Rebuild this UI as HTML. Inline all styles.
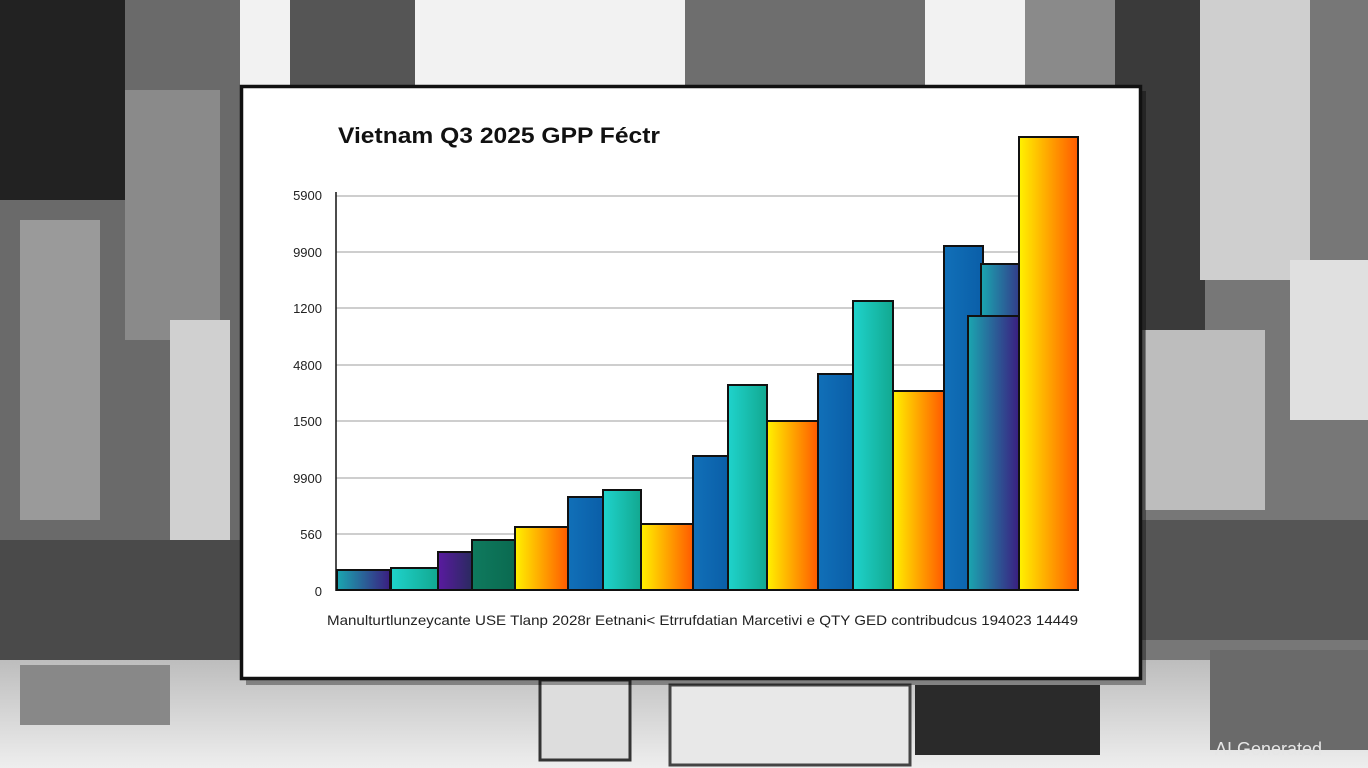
<!DOCTYPE html>
<html><head><meta charset="utf-8"><style>
html,body{margin:0;padding:0;width:1368px;height:768px;overflow:hidden;background:#d8d8d8}
svg{display:block}
text{font-family:"Liberation Sans",sans-serif}
</style></head><body>
<svg width="1368" height="768" viewBox="0 0 1368 768">
<defs>
<linearGradient id="yo" x1="0" x2="1"><stop offset="0" stop-color="#fff200"/><stop offset="0.5" stop-color="#ffa500"/><stop offset="1" stop-color="#ff5a00"/></linearGradient>
<linearGradient id="tp" x1="0" x2="1"><stop offset="0" stop-color="#1aa6b0"/><stop offset="1" stop-color="#3a1e80"/></linearGradient>
<linearGradient id="tl" x1="0" x2="1"><stop offset="0" stop-color="#1fd3cc"/><stop offset="1" stop-color="#12a890"/></linearGradient>
<linearGradient id="bl" x1="0" x2="1"><stop offset="0" stop-color="#1170b8"/><stop offset="1" stop-color="#0a5ea8"/></linearGradient>
<linearGradient id="pu" x1="0" x2="1"><stop offset="0" stop-color="#5a1aa0"/><stop offset="1" stop-color="#2a2a60"/></linearGradient>
<linearGradient id="gr" x1="0" x2="1"><stop offset="0" stop-color="#0f7a5e"/><stop offset="1" stop-color="#0a6a50"/></linearGradient>
<linearGradient id="street" x1="0" x2="0" y1="0" y2="1"><stop offset="0" stop-color="#bdbdbd"/><stop offset="1" stop-color="#eeeeee"/></linearGradient>
</defs>
<rect width="1368" height="768" fill="#f2f2f2"/>
<rect x="0" y="0" width="240" height="768" fill="#6a6a6a"/>
<rect x="0" y="0" width="125" height="200" fill="#222"/>
<rect x="125" y="90" width="95" height="250" fill="#8a8a8a"/>
<rect x="20" y="220" width="80" height="300" fill="#9a9a9a"/>
<rect x="170" y="320" width="60" height="220" fill="#d0d0d0"/>
<rect x="0" y="540" width="240" height="120" fill="#4a4a4a"/>
<rect x="290" y="0" width="125" height="85" fill="#555"/>
<rect x="685" y="0" width="240" height="85" fill="#6e6e6e"/>
<rect x="1025" y="0" width="90" height="85" fill="#8a8a8a"/>
<rect x="1142" y="0" width="226" height="768" fill="#777"/>
<rect x="1115" y="0" width="90" height="330" fill="#3a3a3a"/>
<rect x="1200" y="0" width="110" height="280" fill="#cfcfcf"/>
<rect x="1145" y="330" width="120" height="180" fill="#bdbdbd"/>
<rect x="1290" y="260" width="78" height="160" fill="#e0e0e0"/>
<rect x="1142" y="520" width="226" height="120" fill="#555"/>
<rect x="0" y="660" width="1368" height="108" fill="url(#street)"/>
<rect x="540" y="680" width="90" height="80" fill="#ddd" stroke="#333" stroke-width="3"/>
<rect x="670" y="685" width="240" height="80" fill="#e8e8e8" stroke="#444" stroke-width="3"/>
<rect x="915" y="685" width="185" height="70" fill="#2a2a2a"/>
<rect x="20" y="665" width="150" height="60" fill="#888"/>
<rect x="1210" y="650" width="158" height="100" fill="#6a6a6a"/>
<text x="1215" y="755" font-size="18" fill="#e6e6e6">AI Generated</text>
<rect x="246" y="91" width="900" height="594" fill="#000" opacity="0.35"/>
<rect x="241.5" y="86.5" width="899" height="592" fill="#fff" stroke="#111" stroke-width="3.5"/>
<text x="338" y="143" font-size="22" font-weight="bold" fill="#111" textLength="322" lengthAdjust="spacingAndGlyphs">Vietnam  Q3  2025  GPP  Féctr</text>
<g stroke="#bdbdbd" stroke-width="1.5">
<line x1="336" y1="196" x2="1078" y2="196"/><line x1="336" y1="252" x2="1078" y2="252"/>
<line x1="336" y1="308" x2="1078" y2="308"/><line x1="336" y1="365" x2="1078" y2="365"/>
<line x1="336" y1="421" x2="1078" y2="421"/><line x1="336" y1="478" x2="1078" y2="478"/>
<line x1="336" y1="534" x2="1078" y2="534"/>
</g>
<line x1="336" y1="192" x2="336" y2="591" stroke="#111" stroke-width="1.5"/>
<g font-size="13" fill="#222" text-anchor="end">
<text x="322" y="200">5900</text><text x="322" y="257">9900</text><text x="322" y="313">1200</text>
<text x="322" y="370">4800</text><text x="322" y="426">1500</text><text x="322" y="483">9900</text>
<text x="322" y="539">560</text><text x="322" y="596">0</text>
</g>
<g stroke="#111" stroke-width="2">
<rect x="337" y="570" width="53" height="20" fill="url(#tp)"/>
<rect x="391" y="568" width="47" height="22" fill="url(#tl)"/>
<rect x="438" y="552" width="34" height="38" fill="url(#pu)"/>
<rect x="472" y="540" width="43" height="50" fill="url(#gr)"/>
<rect x="515" y="527" width="53" height="63" fill="url(#yo)"/>
<rect x="568" y="497" width="35" height="93" fill="url(#bl)"/>
<rect x="603" y="490" width="38" height="100" fill="url(#tl)"/>
<rect x="641" y="524" width="52" height="66" fill="url(#yo)"/>
<rect x="693" y="456" width="35" height="134" fill="url(#bl)"/>
<rect x="728" y="385" width="39" height="205" fill="url(#tl)"/>
<rect x="767" y="421" width="51" height="169" fill="url(#yo)"/>
<rect x="818" y="374" width="35" height="216" fill="url(#bl)"/>
<rect x="853" y="301" width="40" height="289" fill="url(#tl)"/>
<rect x="893" y="391" width="51" height="199" fill="url(#yo)"/>
<rect x="944" y="246" width="39" height="344" fill="url(#bl)"/>
<rect x="981" y="264" width="49" height="52" fill="url(#tp)"/>
<rect x="968" y="316" width="51" height="274" fill="url(#tp)"/>
<rect x="1019" y="137" width="59" height="453" fill="url(#yo)"/>
</g>
<line x1="336" y1="590" x2="1079" y2="590" stroke="#111" stroke-width="2"/>
<text x="327" y="625" font-size="14" fill="#222" textLength="751" lengthAdjust="spacingAndGlyphs">Manulturtlunzeycante USE Tlanp 2028r Eetnani&lt; Etrrufdatian Marcetivi e QTY GED contribudcus 194023 14449</text>
</svg>
</body></html>
